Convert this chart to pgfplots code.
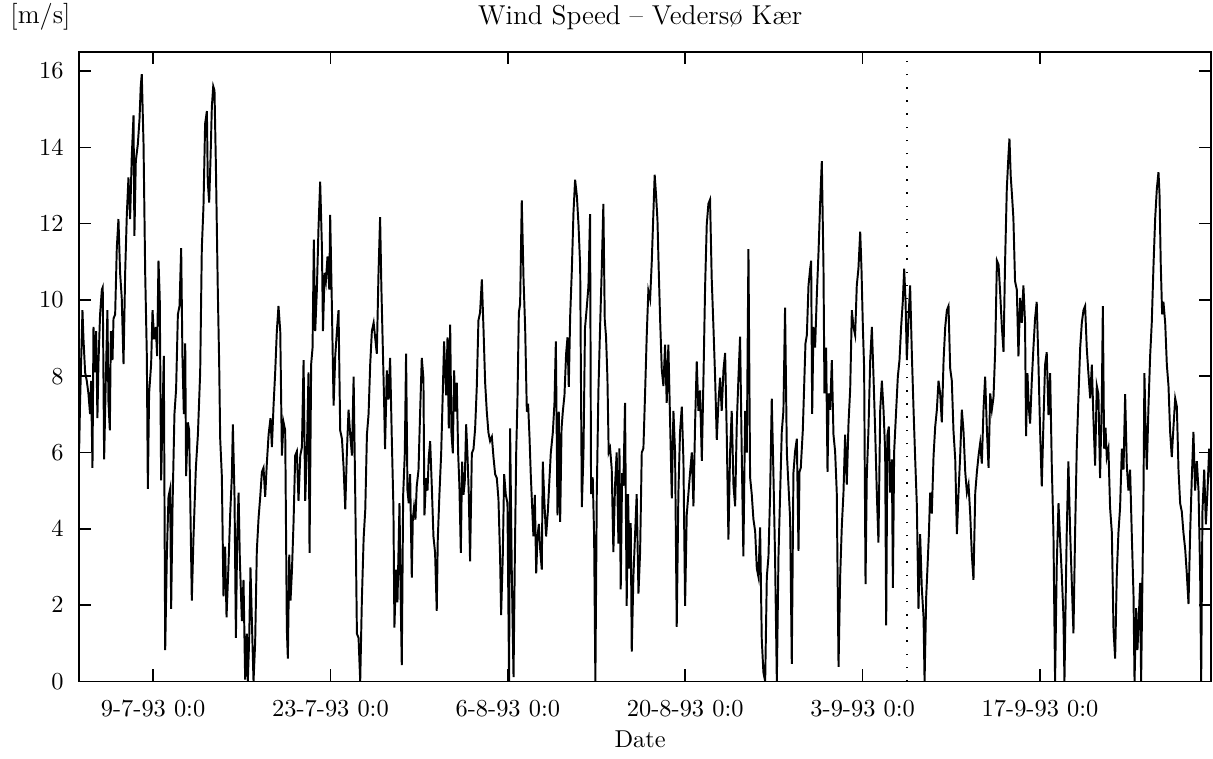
\documentclass[border=0pt]{standalone}
\usepackage{fontspec}
\usepackage{pgfplots}
\pgfplotsset{compat=1.18}
\begin{document}
\begin{tikzpicture}
\begin{axis}[
  name=ax,
  scale only axis,
  width=464pt, height=258pt,
  xmin=2.16, xmax=91.5, ymin=0, ymax=16.5,
  xtick={8,22,36,50,64,78},
  xticklabels={9-7-93 0:0,23-7-93 0:0,6-8-93 0:0,20-8-93 0:0,3-9-93 0:0,17-9-93 0:0},
  ytick={0,2,4,6,8,10,12,14,16},
  tick align=inside,
  major tick length=5pt,
  axis line style={line width=0.6pt},
  every tick/.style={black, line width=0.6pt},
  xticklabel style={yshift=-4pt},
  yticklabel style={xshift=-2.8pt},
  clip=true,
]
\addplot[black, line width=0.8pt] table {
x y
2.17 6.1
2.24 7.3
2.43 9.73
2.51 8.97
2.64 8.10
2.77 7.88
2.90 7.55
3.03 7.01
3.11 7.88
3.22 5.60
3.30 9.29
3.43 8.10
3.51 9.18
3.61 6.90
3.69 8.32
3.82 9.62
3.96 10.27
4.03 10.33
4.14 5.82
4.27 7.88
4.40 9.73
4.48 7.34
4.59 6.58
4.67 9.18
4.80 8.42
4.88 9.51
5.01 9.62
5.14 11.36
5.27 12.12
5.40 10.71
5.53 10.05
5.67 8.32
5.80 10.71
5.93 12.23
6.06 13.21
6.19 12.12
6.32 13.75
6.46 14.84
6.53 11.68
6.64 13.64
6.80 14.08
6.93 14.73
7.03 15.60
7.11 15.92
7.25 14.08
7.38 10.71
7.51 8.53
7.59 5.05
7.69 7.55
7.85 8.32
7.96 9.73
8.09 8.97
8.22 9.29
8.32 8.53
8.43 11.03
8.53 10.05
8.64 5.27
8.75 7.01
8.85 8.53
8.96 0.82
9.09 3.32
9.22 4.84
9.35 5.05
9.43 1.90
9.54 4.62
9.69 7.01
9.82 7.66
9.96 9.62
10.09 9.84
10.22 11.36
10.32 8.53
10.43 7.01
10.54 8.86
10.61 5.38
10.75 6.79
10.85 6.58
10.96 4.29
11.06 2.12
11.19 3.75
11.38 5.60
11.54 6.47
11.72 8.10
11.85 11.36
11.98 12.45
12.11 14.62
12.25 14.95
12.32 13.10
12.43 12.55
12.54 13.75
12.64 15.05
12.75 15.60
12.85 15.49
12.96 13.53
13.11 10.27
13.22 8.32
13.30 6.36
13.43 5.38
13.56 2.23
13.69 3.53
13.80 1.68
13.96 3.10
14.09 4.40
14.22 5.38
14.30 6.74
14.43 4.84
14.54 1.14
14.64 3.75
14.75 4.95
14.85 3.21
15.01 1.58
15.14 2.66
15.27 0.05
15.40 1.25
15.48 0
15.59 1.14
15.69 2.99
15.80 1.58
15.93 0
16.06 1.03
16.19 3.42
16.33 4.29
16.46 4.84
16.59 5.49
16.72 5.60
16.85 4.84
16.98 5.71
17.12 6.47
17.27 6.90
17.38 6.14
17.51 7.23
17.64 8.10
17.77 9.18
17.90 9.84
18.04 9.18
18.17 5.92
18.30 6.79
18.43 6.58
18.56 1.36
18.64 0.60
18.75 3.32
18.85 2.12
18.96 2.88
19.09 4.18
19.22 5.92
19.35 6.03
19.48 4.73
19.62 5.92
19.75 6.14
19.88 8.42
20.01 4.73
20.14 6.03
20.27 8.10
20.35 3.37
20.48 8.32
20.59 8.75
20.69 11.58
20.80 9.18
20.93 10.27
21.06 11.90
21.19 13.10
21.33 11.36
21.41 9.18
21.54 10.71
21.64 10.49
21.77 11.14
21.91 10.27
21.98 12.23
22.12 9.73
22.25 7.23
22.38 8.53
22.51 9.18
22.64 9.73
22.77 6.58
22.91 6.36
23.04 5.60
23.17 4.51
23.30 6.03
23.43 7.12
23.56 6.47
23.70 5.92
23.83 7.99
23.96 4.84
24.09 1.25
24.22 1.14
24.35 0
24.48 2.12
24.62 3.75
24.75 4.51
24.88 6.47
25.01 7.01
25.14 8.32
25.27 9.18
25.41 9.40
25.66 8.59
25.79 10.65
25.92 12.17
26.02 10.33
26.13 8.80
26.24 7.28
26.31 6.09
26.45 8.15
26.58 7.39
26.71 8.48
26.84 6.41
26.97 4.57
27.05 1.41
27.18 2.93
27.29 2.07
27.45 4.67
27.55 2.07
27.63 0.43
27.74 4.89
27.87 5.98
27.97 8.59
28.08 5.00
28.18 4.67
28.29 5.43
28.42 2.72
28.50 4.24
28.60 4.57
28.71 4.24
28.81 5.11
28.95 5.54
29.08 7.07
29.21 8.48
29.34 7.93
29.42 4.35
29.55 5.33
29.66 5.00
29.76 5.87
29.87 6.30
30.00 5.11
30.13 3.80
30.26 3.37
30.39 1.85
30.47 3.70
30.60 4.89
30.74 5.98
30.87 7.61
30.97 8.91
31.13 7.50
31.24 9.02
31.34 6.63
31.45 9.35
31.55 6.52
31.66 5.98
31.76 8.15
31.87 7.07
31.97 7.83
32.08 5.98
32.18 5.11
32.29 3.37
32.39 5.76
32.50 4.89
32.60 5.22
32.71 6.74
32.81 5.98
32.92 4.89
33.02 3.15
33.16 5.98
33.29 6.09
33.42 6.63
33.55 7.72
33.68 9.46
33.81 9.67
33.95 10.54
34.08 9.24
34.21 7.83
34.34 7.07
34.47 6.52
34.60 6.30
34.74 6.41
34.87 5.87
35.00 5.43
35.13 5.33
35.26 4.78
35.39 3.26
35.47 1.74
35.60 3.26
35.71 5.43
35.84 4.89
35.97 4.67
36.10 0
36.18 6.63
36.31 2.93
36.45 0.11
36.55 3.15
36.66 5.98
36.76 7.39
36.87 9.67
36.97 9.89
37.10 12.61
37.24 10.54
37.37 9.24
37.50 7.07
37.60 7.28
37.71 6.41
37.81 5.43
37.92 4.57
38.02 3.80
38.13 4.89
38.24 2.83
38.34 3.80
38.45 4.13
38.55 3.48
38.68 2.93
38.76 5.76
38.89 4.67
39.02 3.80
39.16 4.46
39.29 5.33
39.39 5.98
39.55 6.52
39.68 7.28
39.79 8.91
39.92 4.35
40.02 7.07
40.13 4.18
40.24 6.63
40.34 7.07
40.47 7.50
40.60 8.59
40.71 9.02
40.81 7.72
40.92 9.57
41.05 10.76
41.18 12.28
41.31 13.15
41.45 12.72
41.58 11.96
41.71 10.87
41.84 4.57
41.97 5.98
42.09 9.26
42.23 9.80
42.36 10.35
42.49 12.25
42.57 4.91
42.70 5.35
42.81 3.83
42.91 0
43.02 4.91
43.15 7.63
43.28 9.26
43.41 10.78
43.54 12.52
43.65 9.48
43.75 9.04
43.86 7.96
43.96 6.00
44.07 6.11
44.20 5.57
44.33 3.39
44.46 5.13
44.59 6.00
44.73 3.61
44.81 6.11
44.91 2.41
45.02 5.46
45.12 5.13
45.25 7.30
45.38 1.98
45.49 4.91
45.59 2.96
45.70 4.15
45.78 0.78
45.91 2.74
46.04 3.83
46.17 4.91
46.31 2.30
46.44 3.39
46.57 6.00
46.70 6.11
46.83 7.52
46.96 9.04
47.09 10.24
47.23 10.02
47.36 11.00
47.49 12.30
47.59 13.28
47.70 12.74
47.81 12.09
47.91 10.78
48.02 9.48
48.15 8.17
48.28 7.74
48.41 8.83
48.54 7.30
48.67 8.83
48.81 6.76
48.94 4.80
49.07 7.09
49.20 6.00
49.33 1.43
49.46 4.91
49.59 6.54
49.73 7.20
49.86 5.78
49.99 1.98
50.12 4.37
50.25 4.91
50.38 5.46
50.52 6.00
50.65 4.59
50.78 6.76
50.91 8.39
51.04 7.09
51.17 7.63
51.31 5.78
51.44 7.96
51.57 10.35
51.70 11.98
51.83 12.52
51.96 12.63
52.09 10.57
52.23 9.26
52.36 7.96
52.49 6.33
52.62 7.30
52.75 7.96
52.88 7.09
53.02 8.17
53.15 8.61
53.28 6.43
53.41 3.72
53.54 6.00
53.67 7.09
53.81 5.13
53.94 4.59
54.07 6.76
54.20 7.96
54.33 9.04
54.46 6.00
54.59 3.28
54.73 7.09
54.86 6.00
54.99 11.33
55.12 5.35
55.25 4.91
55.38 4.26
55.52 3.93
55.65 2.96
55.78 2.74
55.91 4.04
56.04 1.11
56.17 0.24
56.31 0
56.44 2.74
56.57 3.28
56.70 4.91
56.83 7.41
56.96 5.46
57.09 3.28
57.23 0
57.36 3.28
57.49 4.91
57.62 6.54
57.75 7.09
57.88 9.80
58.02 6.00
58.15 5.13
58.28 4.26
58.41 0.46
58.54 5.46
58.67 6.03
58.81 6.36
58.94 3.42
59.02 5.49
59.12 5.60
59.28 6.58
59.39 7.77
59.49 8.86
59.60 9.08
59.73 10.38
59.86 10.82
59.94 11.03
60.02 7.01
60.12 9.29
60.25 8.75
60.39 10.16
60.52 11.25
60.65 12.55
60.78 13.64
60.91 10.92
60.99 7.55
61.12 8.75
61.23 5.49
61.33 7.55
61.44 7.12
61.57 8.42
61.70 6.47
61.83 6.03
61.96 4.95
62.10 0.38
62.23 2.77
62.36 4.08
62.49 4.95
62.62 6.47
62.75 5.16
62.89 6.79
63.02 7.66
63.15 9.73
63.28 9.29
63.41 9.08
63.54 10.38
63.67 10.82
63.81 11.79
63.91 10.82
64.02 9.29
64.12 8.21
64.23 2.55
64.33 5.38
64.46 6.58
64.60 8.42
64.73 9.29
64.86 7.99
64.99 6.58
65.12 4.95
65.25 3.64
65.39 7.12
65.52 7.88
65.65 7.12
65.78 6.03
65.86 1.47
65.96 6.47
66.07 6.68
66.17 4.95
66.31 5.82
66.39 2.45
66.49 6.03
66.65 7.12
66.78 7.99
66.91 8.42
67.04 9.29
67.17 9.95
67.28 10.82
67.39 9.95
67.49 8.42
67.62 9.51
67.75 10.38
67.89 8.53
68.02 7.12
68.15 5.82
68.28 4.62
68.41 1.90
68.54 3.86
68.67 2.45
68.81 1.68
68.89 0
69.02 2.23
69.12 2.99
69.23 3.86
69.33 4.95
69.46 4.40
69.60 5.92
69.73 6.68
69.86 7.12
69.99 7.88
70.12 7.55
70.25 6.79
70.39 8.42
70.52 9.29
70.65 9.73
70.78 9.84
70.91 8.21
71.04 7.88
71.17 6.58
71.31 5.82
71.44 3.86
71.57 4.95
71.70 5.92
71.83 7.12
71.96 6.58
72.10 5.49
72.23 4.95
72.36 5.16
72.49 4.40
72.62 3.32
72.75 2.66
72.89 4.95
73.02 5.49
73.15 5.92
73.28 6.25
73.41 5.71
73.54 7.12
73.67 7.99
73.81 6.58
73.94 5.60
74.07 7.55
74.20 7.12
74.33 7.45
74.46 8.64
74.60 11.03
74.73 10.92
74.86 10.16
74.99 9.29
75.12 8.64
75.24 10.93
75.38 12.91
75.51 13.79
75.59 14.23
75.69 13.24
75.80 12.69
75.90 12.14
76.03 10.49
76.17 10.27
76.30 8.52
76.43 10.05
76.56 9.40
76.69 10.38
76.82 9.40
76.90 6.43
77.01 8.08
77.11 7.20
77.22 6.76
77.35 7.86
77.48 8.74
77.61 9.51
77.74 9.95
77.88 8.30
78.01 6.54
78.14 5.11
78.27 6.76
78.40 8.30
78.53 8.63
78.67 6.98
78.80 8.08
78.93 5.66
79.06 3.90
79.19 0
79.32 3.02
79.46 4.67
79.59 3.68
79.72 2.80
79.85 1.70
79.93 0
80.03 2.25
80.11 3.90
80.24 5.77
80.38 3.90
80.51 2.58
80.64 1.26
80.77 3.90
80.90 6.10
81.03 7.42
81.17 8.74
81.30 9.40
81.43 9.73
81.56 9.84
81.69 8.74
81.82 8.08
81.96 7.42
82.09 8.30
82.22 6.87
82.35 5.66
82.48 7.75
82.61 7.53
82.74 5.33
82.88 7.42
82.96 9.84
83.06 6.10
83.17 6.65
83.27 5.88
83.40 6.10
83.53 4.56
83.67 3.90
83.80 1.37
83.93 0.60
84.06 2.80
84.19 3.90
84.32 4.56
84.46 6.10
84.59 5.55
84.72 7.53
84.85 5.66
84.98 5.00
85.11 5.55
85.24 3.90
85.38 2.25
85.46 0
85.59 1.92
85.69 0.82
85.80 1.70
85.90 2.58
85.98 0
86.09 2.80
86.17 5.00
86.24 8.08
86.35 6.43
86.43 5.55
86.56 7.20
86.69 8.52
86.82 9.40
86.96 10.93
87.09 12.14
87.22 12.91
87.35 13.35
87.43 12.80
87.53 10.93
87.64 9.62
87.74 9.95
87.88 9.40
88.01 8.30
88.14 7.75
88.27 6.54
88.40 5.88
88.53 6.65
88.67 7.42
88.80 7.20
88.93 5.55
89.06 4.67
89.19 4.45
89.32 3.90
89.46 3.46
89.59 2.80
89.72 2.03
89.85 3.90
89.98 5.33
90.11 6.54
90.24 5.00
90.38 5.77
90.51 5.00
90.64 2.80
90.72 0
90.82 4.45
90.96 5.55
91.09 4.12
91.22 5.00
91.35 6.10
91.50 5.20
};
\addplot[black, line width=0.8pt, dash pattern=on 0.6pt off 4.8pt] coordinates {(67.5,0) (67.5,16.3)};
\end{axis}
\node[anchor=base, inner sep=0pt, font=\fontsize{11.2}{13}\selectfont] at ([xshift=-2pt,yshift=11.3pt]ax.north) {Wind Speed -- Vedersø Kær};
\node[anchor=base west, inner sep=0pt, font=\fontsize{11}{13}\selectfont] at ([xshift=-28.3pt,yshift=11.5pt]ax.north west) {[m/s]};
\node[anchor=base, inner sep=0pt] at ([xshift=-2pt,yshift=-27pt]ax.south) {Date};
\path ([xshift=-32.4pt,yshift=-31.6pt]ax.south west) ([xshift=0.8pt,yshift=21.3pt]ax.north east);
\end{tikzpicture}
\end{document}
